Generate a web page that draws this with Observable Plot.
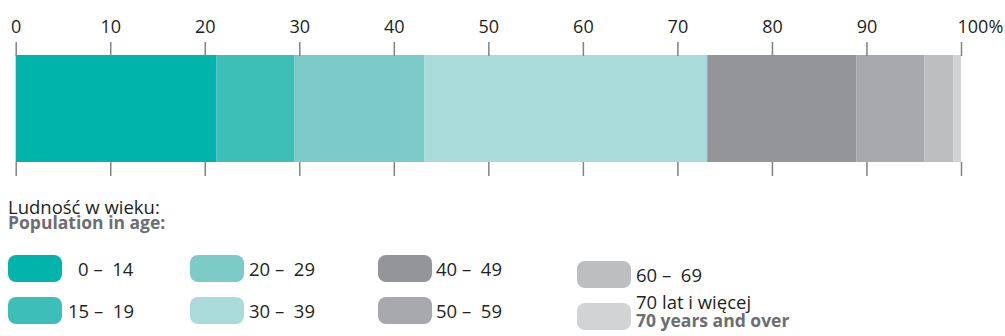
<!DOCTYPE html>
<html>
<head>
<meta charset="utf-8">
<script src="https://cdn.jsdelivr.net/npm/d3@7"></script>
<script src="https://cdn.jsdelivr.net/npm/@observablehq/plot@0.6"></script>
<style>
  html, body { margin: 0; padding: 0; background: #fff; }
  #wrap { position: relative; width: 1005px; height: 336px; overflow: hidden; font-family: "Open Sans", sans-serif; color: #231f20; }
  #wrap svg { display: block; }
  .lg { position: absolute; font-size: 18.5px; white-space: pre; line-height: 15px; }
  .two { font-weight: 700; color: #6d6e71; font-size: 17.5px; }
  .two::first-line { font-weight: 400; color: #231f20; font-size: 18.5px; }
  .sw { position: absolute; width: 54px; height: 27px; border-radius: 8px; }
</style>
</head>
<body>
<div id="wrap"></div>
<script>
// Data
const ages = ["0–14", "15–19", "20–29", "30–39", "40–49", "50–59", "60–69", "70+"];
const shares = [21.2, 8.25, 13.75, 29.95, 15.8, 7.15, 3.1, 0.8];
const colors = ["#00b4ab", "#3dbfb8", "#7dcbc8", "#a8dbda", "#939598", "#a7a9ac", "#bcbec0", "#d1d3d4"];
const tickValues = [0, 10, 20, 30, 40, 50, 60, 70, 80, 90, 100];
const legendLabels = ["0 –  14", "15 –  19", "20 –  29", "30 –  39", "40 –  49", "50 –  59", "60 –  69", "70 lat i więcej"];
const legendLabelsEn = ["", "", "", "", "", "", "", "70 years and over"];
const legendTitle = "Ludność w wieku:";
const legendTitleEn = "Population in age:";

const data = ages.map((a, i) => ({age: a, share: shares[i]}));

const tickColor = "#818285";
const chart = Plot.plot({
  width: 1005,
  height: 182,
  marginLeft: 15.7,
  marginRight: 44,
  marginTop: 55,
  marginBottom: 20,
  style: {fontFamily: "Open Sans, sans-serif", fontSize: "18px", color: "#231f20", background: "#fff"},
  x: {domain: [0, 100], label: null},
  color: {domain: ages, range: colors},
  marks: [
    Plot.barX(data, Plot.stackX({x: "share", fill: "age", order: null})),
    Plot.axisX({anchor: "top", label: null, ticks: tickValues, tickSize: 14, tickPadding: 9, stroke: tickColor, strokeWidth: 1.5, fill: "#231f20",
      tickFormat: d => d === 100 ? "" : String(d)}),
    Plot.axisX({anchor: "bottom", label: null, ticks: tickValues, tickSize: 14, stroke: tickColor, strokeWidth: 1.5, tickFormat: () => ""}),
    Plot.text([100], {x: d => d, frameAnchor: "top", dy: -23, text: () => "100%", textAnchor: "start", dx: -4, lineAnchor: "bottom", fill: "#231f20", fontSize: 18})
  ]
});
const wrap = document.getElementById("wrap");
wrap.appendChild(chart);

// Legend layout (page coordinates)
const colX = [8, 190, 378, 577];
const rowY = [[255, 297], [255, 297], [255, 297], [261, 303]];
const labelX = [[78, 68], [249, 249], [436, 436], [636, 636]];

function block(left, top, line1, line2, lh) {
  const d = document.createElement("div");
  d.className = line2 ? "lg two" : "lg";
  d.style.left = left + "px";
  d.style.top = top + "px";
  if (lh) d.style.lineHeight = lh + "px";
  d.textContent = line2 ? line1 + "\n" + line2 : line1;
  wrap.appendChild(d);
}
function swatch(left, top, color) {
  const d = document.createElement("div");
  d.className = "sw";
  d.style.left = left + "px";
  d.style.top = top + "px";
  d.style.background = color;
  wrap.appendChild(d);
}

block(8, 199.3, legendTitle, legendTitleEn, 15.5);

ages.forEach((a, i) => {
  const c = Math.floor(i / 2), r = i % 2;
  const y = rowY[c][r];
  swatch(colX[c], y, colors[i]);
  if (legendLabelsEn[i]) block(labelX[c][r], y - 9.9, legendLabels[i], legendLabelsEn[i], 18);
  else block(labelX[c][r], y + 5.5, legendLabels[i]);
});
</script>
</body>
</html>
